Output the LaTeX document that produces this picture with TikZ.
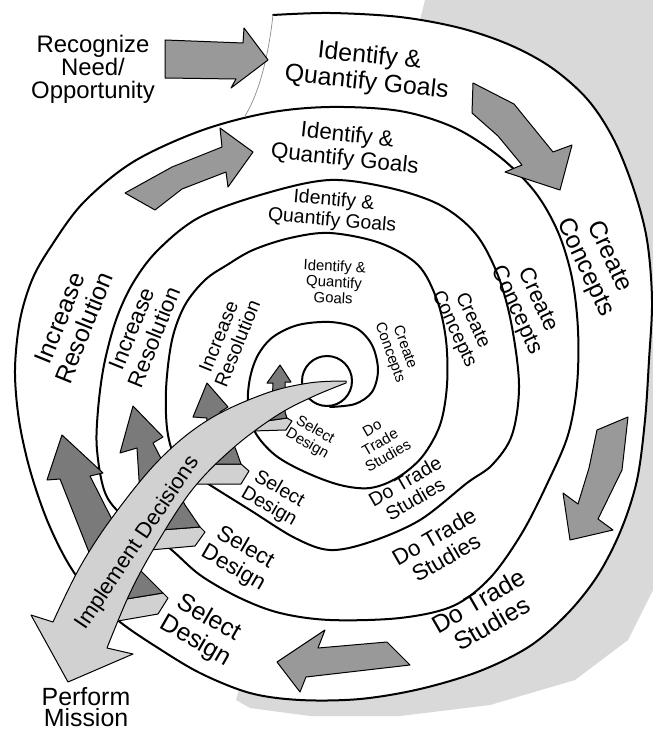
\documentclass[tikz,border=0pt]{standalone}
\usepackage{fontspec}
\setmainfont{Liberation Sans}
\begin{document}
\begin{tikzpicture}[x=1bp,y=-1bp,
  spiral/.style={line width=2bp, line join=round, line cap=round},
  bandarrow/.style={fill=black!40, draw=black, line width=1bp, line join=round},
  uparrow/.style={fill=black!52, draw=black, line width=1bp, line join=round},
  implarrow/.style={fill=black!18, draw=black, line width=1bp, line join=round},
  flap/.style={fill=black!18, draw=black, line width=1bp, line join=round},
  t1/.style={align=center, inner sep=0pt, font=\fontsize{25}{26.5}\selectfont},
  t2/.style={align=center, inner sep=0pt, font=\fontsize{22.5}{24}\selectfont},
  t3/.style={align=center, inner sep=0pt, font=\fontsize{19.5}{20.5}\selectfont},
  t4/.style={align=center, inner sep=0pt, font=\fontsize{15}{16}\selectfont}]
\useasboundingbox (0,0) rectangle (653,733);
\fill[white] (0,0) rectangle (653,733);
% page shadow
\fill[black!15] (425,0) -- (653,0) -- (653,590) -- (628,640) -- (575,680) -- (490,705) -- (400,716) -- (310,716) -- (250,708) -- (236,700) -- (330,380) -- cycle;
\fill[white] plot[smooth, tension=0.55] coordinates {(273,15) (330,13) (400,17) (460,28) (510,45) (552,68) (588,100) (614,140) (634,190) (647,240) (652,300) (649,360) (645,420) (637,480) (621,530) (598,575) (568,613) (530,646) (480,671) (420,689) (360,699) (300,700) (250,693) (200,673) (155,646) (120,622) (92,596) (68,563) (47,520) (30,470) (19,420) (15,370) (20,320) (32,280) (50,248) (83,203) (133,162) (200,131) (245,116)} -- cycle;
% spiral
\draw[spiral] plot[smooth, tension=0.55] coordinates {
(273,15) (330,13) (400,17) (460,28) (510,45) (552,68) (588,100) (614,140) (634,190) (647,240) (652,300) (649,360) (645,420) (637,480) (621,530) (598,575) (568,613) (530,646) (480,671) (420,689) (360,699) (300,700) (250,693) (200,673) (155,646) (120,622) (92,596) (68,563) (47,520) (30,470) (19,420) (15,370) (20,320) (32,280) (50,248) (83,203) (133,162) (200,131) (267,113)
(330,107) (400,111) (455,128) (500,157) (535,192) (558,232) (572,278) (578,330) (577,385) (568,435) (548,482) (522,533) (490,578) (453,606) (400,618) (330,620) (280,613) (240,598) (200,575) (168,547) (130,522) (106,495) (97,450) (98,410) (104,365) (116,320) (133,283) (158,250) (200,217) (267,193)
(330,180) (390,188) (440,205) (475,233) (497,273) (511,322) (519,385) (512,435) (492,465) (467,483) (420,520) (370,542) (330,550) (295,538) (250,510) (210,485) (180,465) (168,435) (166,390) (172,340) (185,305) (205,280) (227,265) (253,250) (290,238)
(330,233) (380,243) (418,265) (437,300) (446,340) (447,385) (440,425) (422,457) (397,478) (370,488) (340,485) (305,472) (275,455) (255,432) (248,405) (250,378) (258,355) (273,337) (298,325) (330,322) (356,328) (372,345) (378,370) (372,392) (355,404) (330,407)};
\draw[spiral] (327,381) circle[radius=25bp];
\coordinate (s0) at (273,15);
\coordinate (s1) at (245,116);
\draw[black!45, line width=0.7bp] (s0) .. controls (268,60) and (258,95) .. (s1);
% band arrows
\draw[bandarrow] (165,40) -- (243,43) -- (244,28) -- (268,60) -- (231,88) -- (236,79) -- (165,78) -- cycle;
\draw[bandarrow] (473,83) -- (514,104) -- (553,152) -- (572,145) -- (560,190) -- (505,172) -- (522,165) -- (498,136) -- (472,113) -- cycle;
\draw[bandarrow] (597,430) -- (628,417) -- (622,470) -- (598,519) -- (613,530) -- (570,540) -- (563,493) -- (578,504) -- (589,468) -- cycle;
\draw[bandarrow] (387,642) -- (318,648) -- (325,630) -- (277,662) -- (300,692) -- (306,677) -- (410,665) -- cycle;
\draw[bandarrow] (125,193) -- (172,167) -- (222,147) -- (220,128) -- (253,152) -- (228,187) -- (226,172) -- (182,189) -- (155,210) -- cycle;
% flaps
\draw[flap] (120,600) -- (163,593) -- (168,598) -- (158,614) -- (112,622) -- cycle;
\draw[flap] (160,530) -- (200,527) -- (205,532) -- (195,546) -- (150,550) -- cycle;
\draw[flap] (211,464) -- (241,464) -- (249,471) -- (241,484) -- (195,484) -- cycle;
\draw[flap] (266,421) -- (287,418) -- (292,421) -- (286,430) -- (252,431) -- cycle;
% increase-resolution arrows
\draw[uparrow] (62,435) -- (103,473) -- (90,476) -- (135,565) -- (163,593) -- (120,600) -- (98,575) -- (60,479) -- (47,480) -- cycle;
\draw[uparrow] (133,406) -- (163,437) -- (153,443) -- (185,505) -- (200,527) -- (160,530) -- (140,495) -- (137,448) -- (120,453) -- cycle;
\draw[uparrow] (207,383) -- (228,407) -- (220,412) -- (236,450) -- (241,464) -- (211,464) -- (205,440) -- (207,418) -- (193,417) -- cycle;
\draw[uparrow] (280,365) -- (291,382) -- (285,382) -- (285,412) -- (287,418) -- (266,421) -- (272,405) -- (273,383) -- (267,383) -- cycle;
% implement decisions arrow
\draw[implarrow] plot[smooth, tension=0.6] coordinates {(346,381) (309,383) (264,394) (208,420) (160,459) (114,515) (80,567) (53,622)} -- (31,615) -- (68,682) -- (133,654) -- plot[smooth, tension=0.6] coordinates {(107,648) (130,593) (156,545) (192,490) (232,449) (276,416) (312,397) (346,383)} -- cycle;
% texts
\node[t1, rotate=-6] (id1) at (368,70) {Identify \&\\Quantify Goals};
\node[t2, rotate=-6] (id2) at (346,148) {Identify \&\\Quantify Goals};
\node[t3, rotate=-5] (id3) at (333,211) {Identify \&\\Quantify Goals};
\node[t4, rotate=-3] (id4) at (334,282) {Identify \&\\Quantify\\Goals};
\node[t1, rotate=-65] (cc1) at (597,262) {Create\\Concepts};
\node[t2, rotate=-65] (cc2) at (527,305) {Create\\Concepts};
\node[t3, rotate=-65] (cc3) at (463,325) {Create\\Concepts};
\node[t4, rotate=-70] (cc4) at (397,350) {Create\\Concepts};
\node[t1, rotate=30] (dt1) at (485,612) {Do Trade\\Studies};
\node[t2, rotate=30] (dt2) at (440,547) {Do Trade\\Studies};
\node[t3, rotate=30] (dt3) at (410,490) {Do Trade\\Studies};
\node[t4, rotate=30] (dt4) at (380,442) {Do\\Trade\\Studies};
\node[t1, rotate=-30] (sd1) at (202,630) {Select\\Design};
\node[t2, rotate=-30] (sd2) at (239,558) {Select\\Design};
\node[t3, rotate=-30] (sd3) at (274,498) {Select\\Design};
\node[t4, rotate=-30] (sd4) at (311,437) {Select\\Design};
\node[t1, rotate=68] (ir1) at (72,323) {Increase\\Resolution};
\node[t2, rotate=68] (ir2) at (143,333) {Increase\\Resolution};
\node[t3, rotate=68] (ir3) at (228,340) {Increase\\Resolution};
\node[align=center, inner sep=0pt, font=\fontsize{24}{23}\selectfont] (rec) at (93,69) {Recognize\\Need/\\Opportunity};
\node[align=center, inner sep=0pt, font=\fontsize{25}{21}\selectfont] (pm) at (86,707) {Perform\\Mission};
\node[inner sep=0pt, rotate=56, font=\fontsize{22}{24}\selectfont] (impl) at (138,543) {Implement Decisions};
\end{tikzpicture}
\end{document}
